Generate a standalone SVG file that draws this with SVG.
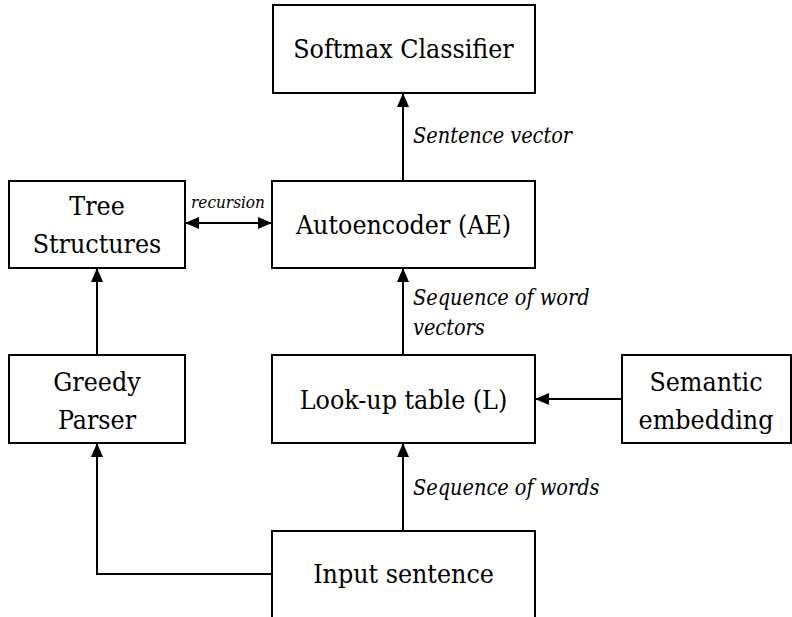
<svg xmlns="http://www.w3.org/2000/svg" width="792" height="617" viewBox="0 0 792 617">
<style>
.box{fill:#fff;stroke:#000;stroke-width:2}
.t{font-family:"DejaVu Serif Condensed","DejaVu Serif",serif;font-stretch:condensed;font-size:26.5px;fill:#000;text-anchor:middle;dominant-baseline:central}
.l{font-family:"DejaVu Serif Condensed","DejaVu Serif",serif;font-stretch:condensed;font-style:italic;font-size:21.5px;fill:#000}
.c{fill:none;stroke:#000;stroke-width:2}
</style>
<defs>
<marker id="ah" markerUnits="userSpaceOnUse" markerWidth="14" markerHeight="12" refX="13" refY="6" orient="auto-start-reverse">
<path d="M0,0 L14,6 L0,12 Z" fill="#000"/>
</marker>
</defs>
<g id="connectors">
<line class="c" x1="403" y1="181" x2="403" y2="94" marker-end="url(#ah)"/>
<line class="c" x1="403" y1="355" x2="403" y2="269" marker-end="url(#ah)"/>
<line class="c" x1="403" y1="531" x2="403" y2="444" marker-end="url(#ah)"/>
<line class="c" x1="622" y1="399" x2="536" y2="399" marker-end="url(#ah)"/>
<polyline class="c" points="272,574 97,574 97,444" marker-end="url(#ah)"/>
<line class="c" x1="97" y1="355" x2="97" y2="269" marker-end="url(#ah)"/>
<line class="c" x1="186" y1="223" x2="271" y2="223" marker-start="url(#ah)" marker-end="url(#ah)"/>
<text class="l" x="413" y="143">Sentence vector</text>
<text class="l" x="413" y="305">Sequence of word</text>
<text class="l" x="413" y="335">vectors</text>
<text class="l" x="413" y="495">Sequence of words</text>
<text class="l" x="228" y="208" style="font-size:17px;text-anchor:middle">recursion</text>
</g>
<g id="softmax"><rect class="box" x="273" y="5" width="262" height="88"/><text class="t" x="403.5" y="48">Softmax Classifier</text></g>
<g id="autoencoder"><rect class="box" x="272" y="181" width="263" height="87"/><text class="t" x="403.5" y="224">Autoencoder (AE)</text></g>
<g id="tree"><rect class="box" x="9" y="181" width="176" height="87"/><text class="t" x="97" y="205">Tree</text><text class="t" x="97" y="243">Structures</text></g>
<g id="greedy"><rect class="box" x="9" y="355" width="176" height="88"/><text class="t" x="97" y="381">Greedy</text><text class="t" x="97" y="419">Parser</text></g>
<g id="lookup"><rect class="box" x="272" y="355" width="263" height="88"/><text class="t" x="403.5" y="399">Look-up table (L)</text></g>
<g id="semantic"><rect class="box" x="622" y="355" width="169" height="88"/><text class="t" x="706" y="381">Semantic</text><text class="t" x="706" y="419">embedding</text></g>
<g id="input"><rect class="box" x="272" y="531" width="263" height="87"/><text class="t" x="403.5" y="573">Input sentence</text></g>
</svg>
